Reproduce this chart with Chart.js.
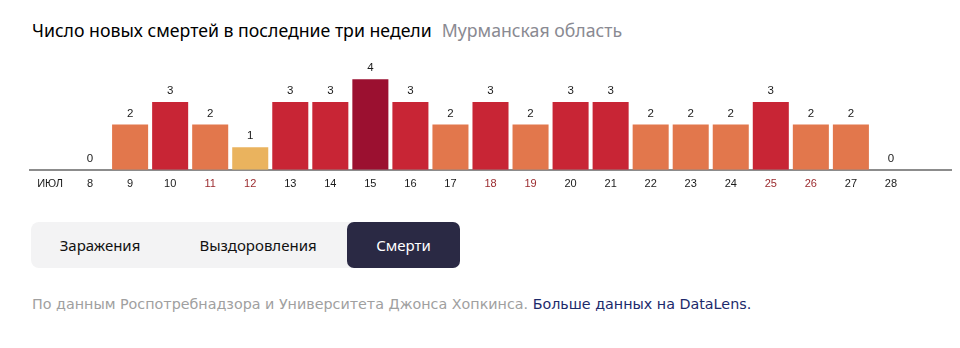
<!DOCTYPE html>
<html><head><meta charset="utf-8">
<script src="https://cdn.jsdelivr.net/npm/chart.js@4.4.0/dist/chart.umd.min.js"></script>
<style>
html,body{margin:0;padding:0;background:#fff;width:960px;height:348px;overflow:hidden;font-family:"Noto Sans",sans-serif;}
#title{position:absolute;left:32px;top:18px;font-size:17.7px;font-weight:400;color:#000;white-space:nowrap;}
#title span{color:#8a8a92;font-weight:400;margin-left:10px;}
#wrap{position:absolute;left:0;top:34px;width:960px;height:165px;}
#tabs{position:absolute;left:31px;top:222px;width:429px;height:46px;background:#f3f3f4;border-radius:8px;}
.tab{position:absolute;top:0;height:46px;line-height:46px;font-size:15px;color:#111;text-align:center;}
.tab.on{background:#2a2944;color:#fff;border-radius:7px;}
#foot{position:absolute;left:32px;top:296px;font-size:14.3px;font-family:"DejaVu Sans",sans-serif;color:#a0a0a0;white-space:nowrap;}
#foot span{color:#1c2a6b;}
</style></head><body>
<div id="title">Число новых смертей в последние три недели<span>Мурманская область</span></div>
<div id="wrap"><canvas id="c"></canvas></div>
<div id="tabs">
<div class="tab" style="left:0;width:138px;">Заражения</div>
<div class="tab" style="left:138px;width:178px;">Выздоровления</div>
<div class="tab on" style="left:316px;width:113px;">Смерти</div>
</div>
<div id="foot">По данным Роспотребнадзора и Университета Джонса Хопкинса. <span>Больше данных на DataLens.</span></div>
<script>
const categories = ['ИЮЛ','8','9','10','11','12','13','14','15','16','17','18','19','20','21','22','23','24','25','26','27','28',''];
const deaths = [null,0,2,3,2,1,3,3,4,3,2,3,2,3,3,2,2,2,3,2,2,0,null];
const weekendLabels = ['11','12','18','19','25','26'];
const colorByValue = {0:'#e2774c',1:'#eab35e',2:'#e2774c',3:'#c82535',4:'#9b1030'};

const valueLabels = {
  id:'valueLabels',
  afterDatasetsDraw(chart){
    const ctx = chart.ctx;
    const meta = chart.getDatasetMeta(0);
    ctx.save();
    ctx.font = '11.5px "Liberation Sans", Arial, sans-serif';
    ctx.fillStyle = '#1a1a1a';
    ctx.textAlign = 'center';
    ctx.textBaseline = 'middle';
    meta.data.forEach((bar,i)=>{
      const v = deaths[i];
      if (v === null || v === undefined) return;
      ctx.fillText(String(v), bar.x, bar.y - 11);
    });
    ctx.restore();
  }
};

new Chart(document.getElementById('c'), {
  type:'bar',
  data:{labels:categories, datasets:[{data:deaths, backgroundColor:deaths.map(v=>colorByValue[v]||'#000'), categoryPercentage:0.9, barPercentage:1, borderWidth:0}]},
  options:{
    responsive:true, maintainAspectRatio:false, animation:false,
    layout:{padding:{left:30,right:9,top:0,bottom:0}},
    plugins:{legend:{display:false},tooltip:{enabled:false}},
    scales:{
      x:{grid:{display:false,drawTicks:false},border:{display:true,color:'#8c8c8c',width:2},
         ticks:{padding:8,autoSkip:false,maxRotation:0,font:{size:11,family:'"Liberation Sans", Arial, sans-serif'},
           color:(c)=>weekendLabels.includes(categories[c.index])?'#9b2a2e':'#1a1a1a'}},
      y:{display:false,min:0,max:6}
    }
  },
  plugins:[valueLabels]
});
</script>
</body></html>
